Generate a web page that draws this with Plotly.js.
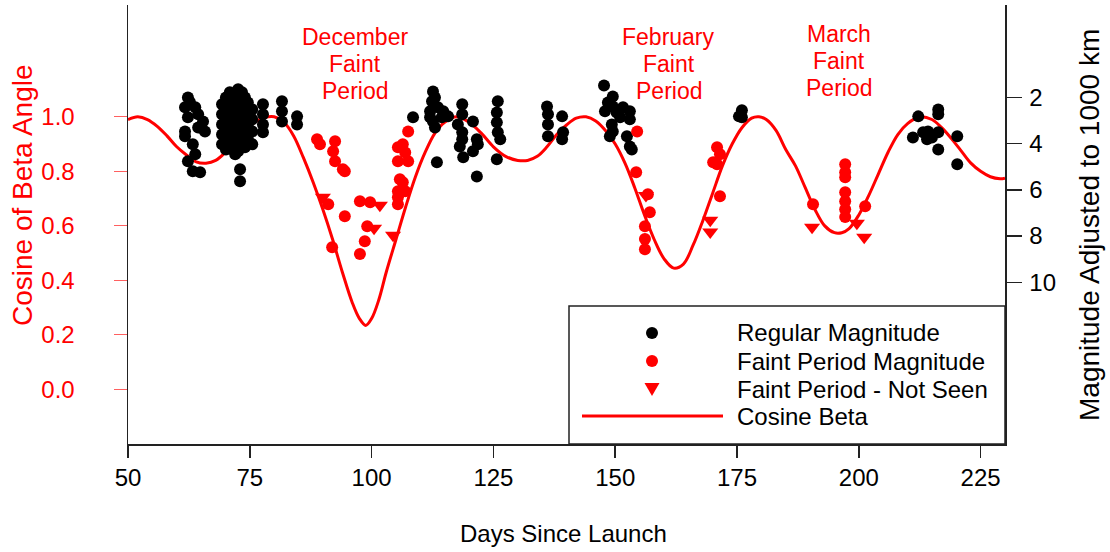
<!DOCTYPE html>
<html>
<head>
<meta charset="utf-8">
<script src="https://cdn.plot.ly/plotly-3.0.1.min.js"></script>
<style>
  html, body { margin: 0; padding: 0; background: #fff; }
  #chart { width: 1110px; height: 552px; }
</style>
</head>
<body>
<div id="chart"></div>
<script>
// Cosine of the beta angle over the mission (left axis)
const betaDay = [50, 52, 54, 56, 58, 60, 62, 64, 66, 68, 70, 72, 74, 76, 78, 80,
  82, 84, 86, 88, 90, 92, 94, 96, 97.5, 98.8, 100, 101.5, 103, 105, 107, 109, 111, 113, 115, 117.5,
  120, 122.5, 125, 127.5, 130, 132, 134, 136, 138, 140, 142, 144,
  146, 148, 150, 152, 154, 156, 158, 160, 162, 164, 166, 168, 170, 172, 174, 176, 178, 179.5,
  181, 183, 185, 187, 189, 191, 193, 195, 196.5, 198, 200, 202, 204, 206, 208, 210, 212.5,
  215, 217, 219, 221, 223, 225, 227, 229, 230];
const betaCos = [0.99, 1.0, 0.99, 0.965, 0.93, 0.89, 0.86, 0.835, 0.83, 0.84, 0.87, 0.91, 0.95, 0.98, 0.997, 1.0,
  0.98, 0.93, 0.85, 0.76, 0.66, 0.55, 0.43, 0.32, 0.26, 0.235, 0.26, 0.33, 0.43, 0.55, 0.67, 0.78, 0.87, 0.94, 0.98, 1.0,
  0.98, 0.94, 0.89, 0.855, 0.84, 0.84, 0.855, 0.89, 0.935, 0.97, 0.995, 1.0,
  0.985, 0.95, 0.9, 0.83, 0.74, 0.64, 0.55, 0.48, 0.445, 0.46, 0.53, 0.62, 0.72, 0.82, 0.9, 0.96, 0.995, 1.0,
  0.99, 0.95, 0.88, 0.82, 0.74, 0.66, 0.6, 0.575, 0.575, 0.59, 0.64, 0.71, 0.79, 0.87, 0.935, 0.975, 1.0,
  0.99, 0.96, 0.92, 0.875, 0.83, 0.8, 0.78, 0.773, 0.775];

// Regular magnitudes (right axis)
const regDay = [
  62.3, 61.7, 62.3, 63.8, 64.4, 65.4, 65.8, 61.7, 61.7, 63.3, 63.8, 62.3, 63.3, 64.8, 64.4, 62.7, 64.8,
  69.3, 69.3, 69.3, 69.3, 69.3,
  70.1, 70.1, 70.1, 70.1, 70.1, 70.1,
  70.9, 70.9, 70.9, 70.9, 70.9, 70.9,
  71.8, 71.8, 71.8, 71.8, 71.8, 71.8,
  72.6, 72.6, 72.6, 72.6, 72.6, 72.6, 72.6,
  73.4, 73.4, 73.4, 73.4, 73.4, 73.4,
  74.0, 74.0, 74.0, 74.0, 74.0, 74.0,
  74.6, 74.6, 74.6, 74.6,
  75.5, 75.5, 75.5, 75.5,
  72.0, 73.0, 73.0,
  77.7, 77.7, 77.7, 77.7,
  81.6, 81.6, 81.6,
  84.7, 84.7,
  108.5,
  112.6, 112.4, 113.0, 112.0, 113.6, 114.7, 115.7, 112.6, 113.0, 114.4, 112.0, 113.4,
  118.6, 118.6, 117.7, 118.6, 118.1, 118.8, 120.8, 121.6, 121.8, 120.8, 121.6, 118.6,
  125.9, 125.7, 125.7, 125.9, 126.4, 125.7,
  136.0, 136.2, 136.2, 136.2, 139.1, 139.3, 139.1,
  147.7, 149.5, 148.5, 147.9, 149.5, 151.6, 153.0, 151.0, 153.0, 149.3, 148.9, 152.4, 153.0, 149.5, 153.4, 150.3,
  176.0, 176.0, 175.4,
  212.2, 216.3, 216.3, 211.1, 213.2, 214.2, 215.0, 216.3, 214.0, 220.2, 216.3, 220.2];
const regMag = [
  2.0, 2.43, 2.86, 2.43, 2.73, 3.04, 3.47, 3.47, 3.68, 4.03, 4.46, 4.76, 5.2, 5.24, 3.3, 2.2, 3.3,
  2.3, 2.73, 3.17, 3.6, 4.03,
  2.0, 2.52, 2.95, 3.38, 3.81, 4.25,
  1.78, 2.22, 2.65, 3.08, 3.51, 3.94,
  1.96, 2.39, 2.82, 3.25, 3.68, 4.12,
  1.65, 2.09, 2.52, 2.95, 3.38, 3.81, 4.33,
  1.78, 2.22, 2.65, 3.08, 3.51, 3.94,
  2.0, 2.43, 2.86, 3.3, 3.73, 4.16,
  2.22, 2.73, 3.25, 3.81,
  2.52, 2.95, 3.47, 4.03,
  4.46, 5.11, 5.63,
  2.3, 2.73, 3.17, 3.51,
  2.17, 2.6, 3.04,
  2.82, 3.17,
  2.86,
  1.74, 2.17, 2.0, 2.6, 2.43, 2.6, 2.82, 3.04, 3.3, 2.86, 2.86, 4.81,
  2.3, 2.73, 3.17, 3.51, 4.12, 4.59, 3.04, 3.81, 4.03, 4.33, 5.42, 3.81,
  2.17, 2.65, 3.08, 3.51, 3.81, 4.68,
  2.39, 2.73, 3.17, 3.68, 2.82, 3.51, 3.81,
  1.48, 1.96, 2.22, 2.6, 2.39, 2.43, 2.6, 2.86, 2.95, 3.17, 3.68, 3.68, 4.12, 3.47, 4.25, 2.65,
  2.56, 2.86, 2.82,
  2.82, 2.52, 2.73, 3.73, 3.51, 3.47, 3.73, 3.51, 3.81, 3.68, 4.25, 4.89];

// Magnitudes measured during the faint periods
const faintDay = [
  88.8, 89.4, 92.5, 92.1, 92.5, 94.1, 94.5, 91.1, 94.5, 91.9, 97.6, 99.7, 99.1, 98.6, 97.6,
  107.5, 106.4, 105.4, 106.9, 105.4, 107.5, 105.8, 106.4, 105.4, 106.9, 105.4, 105.4,
  154.5, 154.3, 156.7, 157.1, 156.1, 156.1, 156.1, 170.9, 171.5, 170.9, 170.1, 171.5,
  190.6, 197.2, 197.2, 197.2, 197.2, 197.2, 197.2, 197.2, 201.3];
const faintMag = [
  3.81, 4.03, 3.9, 4.33, 4.76, 5.11, 5.2, 6.62, 7.14, 8.48, 6.49, 6.54, 7.58, 8.22, 8.78,
  3.47, 4.03, 4.16, 4.38, 4.76, 4.76, 5.54, 5.67, 6.06, 6.06, 6.32, 6.62,
  3.47, 5.24, 6.19, 6.97, 7.58, 8.13, 8.57, 4.16, 4.46, 4.89, 4.81, 6.28,
  6.62, 4.89, 5.24, 5.46, 6.1, 6.49, 6.84, 7.18, 6.71];

// Faint-period passes where the object was not seen
const unseenDay = [90.0, 101.7, 100.5, 104.4, 156.3, 169.5, 169.5, 190.4, 199.6, 201.1];
const unseenMag = [6.32, 6.67, 7.66, 7.96, 6.24, 7.32, 7.83, 7.62, 7.45, 8.05];

// Axis ticks
const dayTicks = [50, 75, 100, 125, 150, 175, 200, 225];
const cosTicks = [0.0, 0.2, 0.4, 0.6, 0.8, 1.0];
const cosTickText = ['0.0', '0.2', '0.4', '0.6', '0.8', '1.0'];
const magTicks = [2, 4, 6, 8, 10];

// Faint period labels
const periodNames = ['December', 'February', 'March'];
const periodCentre = [96.6, 161.0, 195.9];

const legendLabels = ['Regular Magnitude', 'Faint Period Magnitude', 'Faint Period - Not Seen', 'Cosine Beta'];

const FONT = 'Liberation Sans, Arial, Helvetica, sans-serif';
const RED = '#ff0000';

const traces = [
  {
    x: betaDay, y: betaCos, type: 'scatter', mode: 'lines',
    line: { color: RED, width: 3, shape: 'spline', smoothing: 1 },
    yaxis: 'y', hoverinfo: 'skip'
  },
  {
    x: regDay, y: regMag, type: 'scatter', mode: 'markers', yaxis: 'y2',
    marker: { color: '#000', size: 12, symbol: 'circle', line: { width: 0 } }
  },
  {
    x: faintDay, y: faintMag, type: 'scatter', mode: 'markers', yaxis: 'y2',
    marker: { color: RED, size: 12, symbol: 'circle', line: { width: 0 } }
  },
  {
    x: unseenDay, y: unseenMag, type: 'scatter', mode: 'markers', yaxis: 'y2',
    marker: { color: RED, size: 14, symbol: 'triangle-down', line: { width: 0 } }
  }
];

// pixel helpers for the plot frame (paper units)
const L = 128, R = 1005, T = 5, B = 444;
const px = v => (v - L) / (R - L);
const py = v => (B - v) / (B - T);

const annotations = [];
const periodRows = [[37, 64, 91], [37, 64, 91], [34, 61, 88]];
periodNames.forEach((name, i) => {
  [name, 'Faint', 'Period'].forEach((txt, j) => {
    annotations.push({
      xref: 'x', yref: 'paper', x: periodCentre[i], y: py(periodRows[i][j]),
      text: txt, showarrow: false, xanchor: 'center', yanchor: 'middle',
      font: { family: FONT, size: 23, color: RED }
    });
  });
});

// axis titles
annotations.push({
  xref: 'paper', yref: 'paper', x: px(22), y: py(195), text: 'Cosine of Beta Angle',
  textangle: -90, showarrow: false, xanchor: 'center', yanchor: 'middle',
  font: { family: FONT, size: 28, color: RED }
});
annotations.push({
  xref: 'paper', yref: 'paper', x: px(1090), y: py(225), text: 'Magnitude Adjusted to 1000 km',
  textangle: -90, showarrow: false, xanchor: 'center', yanchor: 'middle',
  font: { family: FONT, size: 28, color: '#000' }
});
annotations.push({
  xref: 'paper', yref: 'paper', x: px(563), y: py(533), text: 'Days Since Launch',
  showarrow: false, xanchor: 'center', yanchor: 'middle',
  font: { family: FONT, size: 24, color: '#000' }
});

// legend
const legRows = [333, 361, 389, 416];
legendLabels.forEach((lab, i) => {
  annotations.push({
    xref: 'paper', yref: 'paper', x: px(735), y: py(legRows[i]), text: lab,
    showarrow: false, xanchor: 'left', yanchor: 'middle',
    font: { family: FONT, size: 24, color: '#000' }
  });
});

const mx = 652;
const shapes = [
  { type: 'rect', xref: 'paper', yref: 'paper', x0: px(569), x1: px(1005), y0: py(444), y1: py(306),
    line: { color: '#222', width: 1.5 }, fillcolor: '#fff', layer: 'above' },
  { type: 'circle', xref: 'paper', yref: 'paper', x0: px(mx - 6), x1: px(mx + 6), y0: py(legRows[0] + 6), y1: py(legRows[0] - 6),
    fillcolor: '#000', line: { width: 0 }, layer: 'above' },
  { type: 'circle', xref: 'paper', yref: 'paper', x0: px(mx - 6), x1: px(mx + 6), y0: py(legRows[1] + 6), y1: py(legRows[1] - 6),
    fillcolor: RED, line: { width: 0 }, layer: 'above' },
  { type: 'path', xref: 'paper', yref: 'paper',
    path: `M ${px(mx - 7.5)} ${py(legRows[2] - 6)} L ${px(mx + 7.5)} ${py(legRows[2] - 6)} L ${px(mx)} ${py(legRows[2] + 7)} Z`,
    fillcolor: RED, line: { width: 0 }, layer: 'above' },
  { type: 'line', xref: 'paper', yref: 'paper', x0: px(582), x1: px(723), y0: py(legRows[3]), y1: py(legRows[3]),
    line: { color: RED, width: 3 }, layer: 'above' }
];

const layout = {
  width: 1110, height: 552,
  margin: { l: L, r: 1110 - R, t: T, b: 552 - B },
  paper_bgcolor: '#fff', plot_bgcolor: '#fff',
  showlegend: false,
  font: { family: FONT, size: 24, color: '#000' },
  xaxis: {
    range: [50, 230], tickvals: dayTicks, ticktext: dayTicks.map(String),
    showgrid: false, zeroline: false, showline: true, linecolor: '#222', linewidth: 1.5,
    ticks: 'outside', ticklen: 12, tickcolor: '#222', tickwidth: 1.5,
    tickfont: { family: FONT, size: 24, color: '#000' }
  },
  yaxis: {
    range: [-0.2, 1.41], tickvals: cosTicks, ticktext: cosTickText,
    showgrid: false, zeroline: false, showline: true, linecolor: '#222', linewidth: 1.5,
    ticks: 'outside', ticklen: 13, tickcolor: '#ff6060', tickwidth: 1,
    ticklabelstandoff: 34,
    tickfont: { family: FONT, size: 24, color: RED }
  },
  yaxis2: {
    overlaying: 'y', side: 'right', range: [17, -2], tickvals: magTicks, ticktext: magTicks.map(String),
    showgrid: false, zeroline: false, showline: true, linecolor: '#222', linewidth: 1.5,
    ticks: 'outside', ticklen: 15, tickcolor: '#222', tickwidth: 1.5,
    ticklabelstandoff: 3,
    tickfont: { family: FONT, size: 24, color: '#000' }
  },
  annotations: annotations,
  shapes: shapes
};

Plotly.newPlot('chart', traces, layout, { displayModeBar: false, staticPlot: true });
</script>
</body>
</html>
